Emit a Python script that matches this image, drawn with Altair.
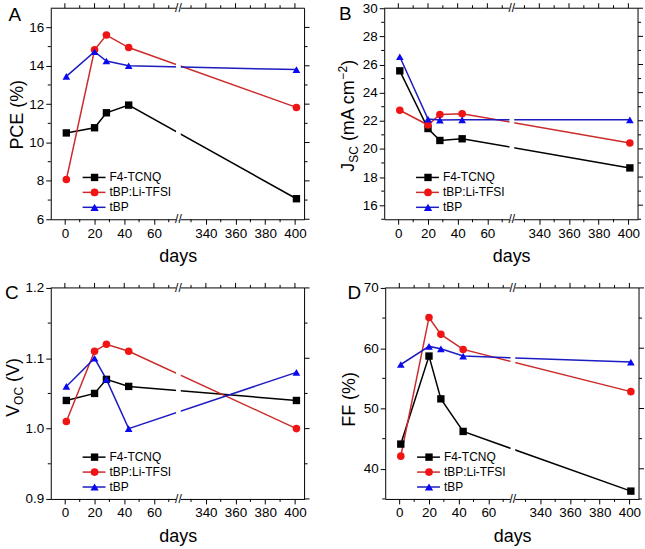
import altair as alt
import pandas as pd

# ---------------- data ----------------
days = [1, 20, 28, 43, 401]
series_names = ["F4-TCNQ", "tBP:Li-TFSI", "tBP"]

pce_f4 = [10.5, 10.77, 11.55, 11.95, 7.07]
pce_li = [8.07, 14.83, 15.6, 14.95, 11.83]
pce_tbp = [13.45, 14.73, 14.25, 14.0, 13.8]

jsc_f4 = [25.55, 21.45, 20.6, 20.72, 18.65]
jsc_li = [22.75, 21.7, 22.45, 22.5, 20.42]
jsc_tbp = [26.55, 22.12, 22.05, 22.07, 22.07]

voc_f4 = [1.04, 1.05, 1.07, 1.06, 1.04]
voc_li = [1.01, 1.11, 1.12, 1.11, 1.00]
voc_tbp = [1.06, 1.10, 1.07, 1.00, 1.08]

ff_f4 = [44.1, 58.7, 51.6, 46.2, 36.3]
ff_li = [42.1, 65.1, 62.3, 59.8, 52.8]
ff_tbp = [57.3, 60.3, 59.9, 58.7, 57.7]

x_major_days = [0, 20, 40, 60, 340, 360, 380, 400]
x_minor_days = [10, 30, 50, 70, 330, 350, 370, 390]

# ---------------- styling ----------------
line_colors = ["#000000", "#cc2b2b", "#1c1cc0"]
marker_colors = ["#000000", "#f01414", "#0a0af0"]
shapes = ["square", "circle", "triangle-up"]
marker_sizes = [55, 60, 70]

FONT = "Liberation Sans"
W, H = 255, 212
BRK = 76.5          # break position in compressed coordinate
OFF = 245           # days removed by the axis break
XDOM = [-9.5, 161.5]
MAJ, MIN = 5, 3     # tick lengths
LBL = 13.5


def to_xt(d):
    return d if d < BRK else d - OFF


x_major = [to_xt(d) for d in x_major_days]
x_minor = [to_xt(d) for d in x_minor_days]

ARIAL = {'P': .667, 'C': .722, 'E': .667, ' ': .278, '(': .333, '%': .889, ')': .333,
         'J': .5, 'S': .667, 'm': .833, 'A': .667, 'c': .5, '\u2212': .584, '2': .556,
         'V': .667, 'O': .778, 'F': .611}


def tw(s, size):
    return sum(ARIAL.get(ch, .6) for ch in s) * size


one = pd.DataFrame({"a": [0]})


def axis(**kw):
    base = dict(grid=False, domainColor="black", domainWidth=1, tickColor="black",
                tickWidth=1, labelColor="black", labelFont=FONT, labelFontSize=LBL,
                labelPadding=2, labelOverlap=False, titleColor="black", titleFont=FONT)
    base.update(kw)
    return alt.Axis(**base)


def panel(vals, ydom, ymaj, ymin, yfmt, letter, letter_xy, title_parts, title_bx, title_yc):
    rows = []
    for s, v in zip(series_names, vals):
        for d, y in zip(days, v):
            rows.append({"day": d, "val": y, "series": s})
    df = pd.DataFrame(rows)
    base = alt.Chart(df).transform_calculate(
        xt=f"datum.day < {BRK} ? datum.day : datum.day - {OFF}")
    xs = alt.Scale(domain=XDOM, nice=False, zero=False)
    ys = alt.Scale(domain=ydom, nice=False, zero=False)
    label_expr = f"format(datum.value > {BRK} ? datum.value + {OFF} : datum.value, 'd')"

    lines = base.mark_line(strokeWidth=1.5).encode(
        x=alt.X("xt:Q", scale=xs, axis=axis(orient="bottom", values=x_major, labelExpr=label_expr,
                                             tickSize=MAJ, title="days", titleFontSize=18,
                                             titleFontWeight="normal", titlePadding=8)),
        y=alt.Y("val:Q", scale=ys, axis=axis(orient="left", values=ymaj, format=yfmt,
                                             tickSize=MAJ, title=None)),
        color=alt.Color("series:N", scale=alt.Scale(domain=series_names, range=line_colors),
                        legend=None),
        detail="series:N",
    )
    pts = base.mark_point(filled=True, opacity=1, strokeWidth=0).encode(
        x=alt.X("xt:Q", scale=xs, axis=None),
        y=alt.Y("val:Q", scale=ys, axis=None),
        fill=alt.Fill("series:N", scale=alt.Scale(domain=series_names, range=marker_colors),
                      legend=None),
        shape=alt.Shape("series:N", scale=alt.Scale(domain=series_names, range=shapes),
                        legend=None),
        size=alt.Size("series:N", scale=alt.Scale(domain=series_names, range=marker_sizes),
                      legend=None),
    )

    def xticks(vals_, y0, y1):
        return alt.Chart(pd.DataFrame({"xt": vals_})).mark_rule(color="black", strokeWidth=1).encode(
            x=alt.X("xt:Q", scale=xs, axis=None), y=alt.value(y0), y2=alt.value(y1))

    def yticks(vals_, x0, x1):
        return alt.Chart(pd.DataFrame({"val": vals_})).mark_rule(color="black", strokeWidth=1).encode(
            y=alt.Y("val:Q", scale=ys, axis=None), x=alt.value(x0), x2=alt.value(x1))

    frame_top = alt.Chart(one).mark_rule(color="black", strokeWidth=1).encode(
        x=alt.value(0), x2=alt.value(W), y=alt.value(0))
    frame_right = alt.Chart(one).mark_rule(color="black", strokeWidth=1).encode(
        x=alt.value(W), y=alt.value(0), y2=alt.value(H))

    ticks = [
        xticks(x_major, -MAJ, 0), xticks(x_minor, -MIN, 0), xticks(x_minor, H, H + MIN),
        yticks(ymaj, W, W + MAJ), yticks(ymin, W, W + MIN), yticks(ymin, -MIN, 0),
    ]

    gap = alt.Chart(one).mark_rect(color="white").encode(
        x=alt.XDatum(BRK - 1.6, scale=xs, axis=None),
        x2=alt.X2Datum(BRK + 1.6),
        y=alt.value(-1), y2=alt.value(H + 1),
    )
    slash_top = alt.Chart(one).mark_text(text="//", fontSize=12, font=FONT, align="center",
                                         baseline="middle", color="black").encode(
        x=alt.XDatum(BRK, scale=xs, axis=None), y=alt.value(0))
    slash_bot = alt.Chart(one).mark_text(text="//", fontSize=12, font=FONT, align="center",
                                         baseline="middle", color="black").encode(
        x=alt.XDatum(BRK, scale=xs, axis=None), y=alt.value(H))

    layers = [lines, pts, frame_top, frame_right] + ticks + [gap, slash_top, slash_bot]

    # legend drawn inside the plot
    for i, s in enumerate(series_names):
        ly = 170 + 15 * i
        layers.append(alt.Chart(one).mark_rule(color=line_colors[i], strokeWidth=1.5).encode(
            x=alt.value(32), x2=alt.value(55), y=alt.value(ly)))
        layers.append(alt.Chart(one).mark_point(shape=shapes[i], filled=True, size=marker_sizes[i],
                                                color=marker_colors[i], opacity=1,
                                                strokeWidth=0).encode(
            x=alt.value(44), y=alt.value(ly)))
        layers.append(alt.Chart(one).mark_text(text=s, align="left", baseline="middle",
                                               fontSize=12, font=FONT, color="black").encode(
            x=alt.value(59), y=alt.value(ly)))

    # panel letter
    layers.append(alt.Chart(one).mark_text(text=letter, fontSize=19, font=FONT, align="center",
                                           baseline="middle", color="black").encode(
        x=alt.value(letter_xy[0]), y=alt.value(letter_xy[1])))

    # y title built from pieces (sub/superscripts); blank pieces only advance the position
    total = sum(tw(t, sz) for t, sz, _ in title_parts)
    ystart = title_yc + total / 2
    cum = 0
    for t, sz, shift in title_parts:
        if t.strip():
            layers.append(alt.Chart(one).mark_text(text=t, fontSize=sz, font=FONT, angle=270,
                                                   align="left", baseline="alphabetic",
                                                   color="black").encode(
                x=alt.value(title_bx + shift), y=alt.value(ystart - cum)))
        cum += tw(t, sz)

    return alt.layer(*layers).resolve_axis(x="independent", y="independent").properties(
        width=W, height=H)


pA = panel([pce_f4, pce_li, pce_tbp], [6, 17], [6, 8, 10, 12, 14, 16], [7, 9, 11, 13, 15], "d",
           "A", (-36, 6.5), [("PCE (%)", 18, 0)], -28, 107)
pB = panel([jsc_f4, jsc_li, jsc_tbp], [15, 30], [16, 18, 20, 22, 24, 26, 28, 30],
           [15, 17, 19, 21, 23, 25, 27, 29], "d",
           "B", (-39, 6), [("J", 18, 0), ("SC", 12, 4), (" ", 18, 0), ("(mA cm", 18, 0),
                           ("\u22122", 12, -7), (")", 18, 0)], -30, 108)
pC = panel([voc_f4, voc_li, voc_tbp], [0.9, 1.2], [0.9, 1.0, 1.1, 1.2], [0.95, 1.05, 1.15], ".1f",
           "C", (-39, 5), [("V", 18, 0), ("OC", 12, 4), (" ", 18, 0), ("(V)", 18, 0)], -32, 100)
pD = panel([ff_f4, ff_li, ff_tbp], [35, 70], [40, 50, 60, 70], [35, 45, 55, 65], "d",
           "D", (-31, 5.5), [("FF (%)", 18, 0)], -30, 112)

row1 = alt.hconcat(pA, pB, spacing=26)
row2 = alt.hconcat(pC, pD, spacing=31)
chart = alt.vconcat(row1, row2, spacing=15).properties(
    padding={"left": 5, "top": 0, "right": 0, "bottom": 0}
).configure(font=FONT).configure_view(stroke=None)

chart.save("out.html", embed_options={"renderer": "svg", "actions": False})
